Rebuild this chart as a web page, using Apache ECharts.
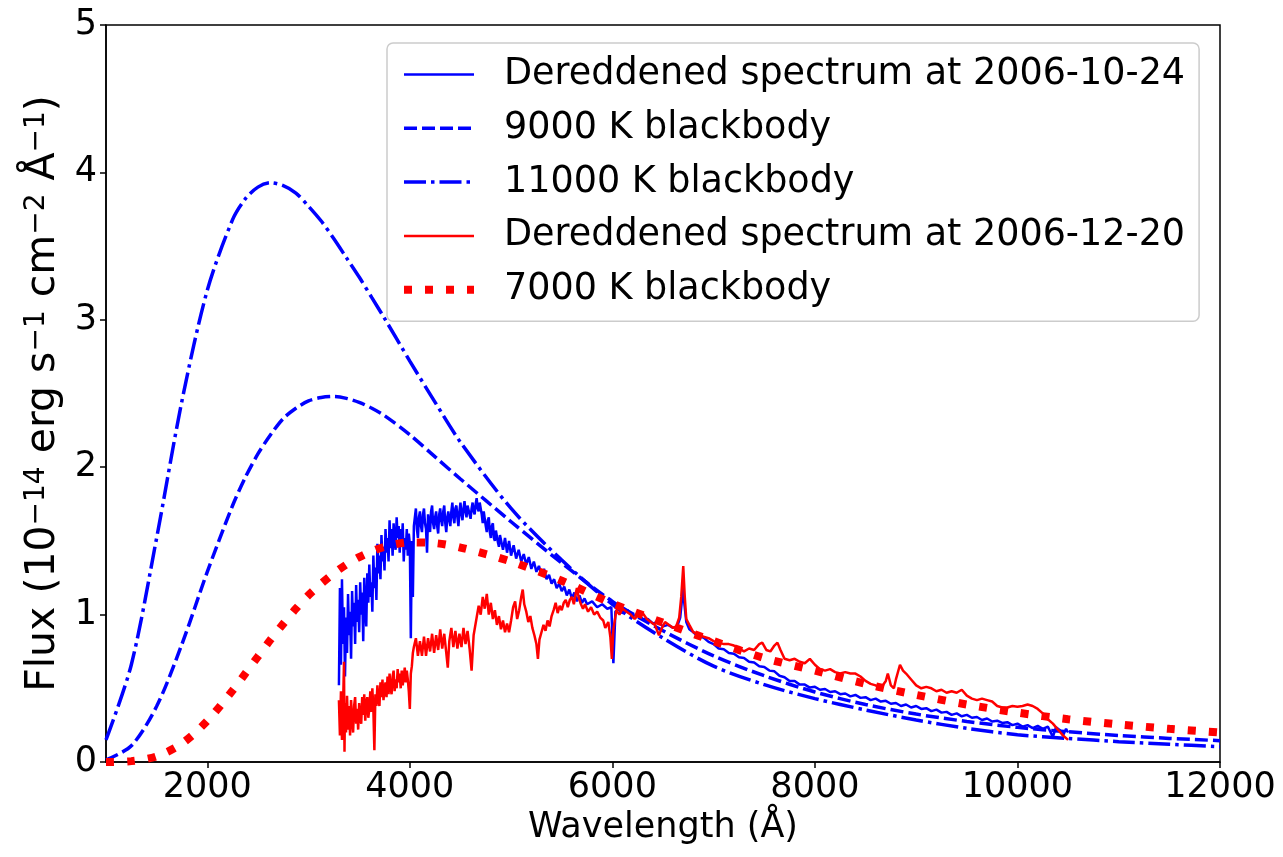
<!DOCTYPE html>
<html><head><meta charset="utf-8">
<script src="https://cdn.jsdelivr.net/npm/echarts@6/dist/echarts.min.js"></script>
<style>html,body{margin:0;padding:0;background:#fff}#c{width:1283px;height:857px}</style>
</head><body><div id="c"></div><script>
// ---- data ----
const xTicks = [2000, 4000, 6000, 8000, 10000, 12000];
const yTicks = [0, 1, 2, 3, 4, 5];
const seriesNames = ['Dereddened spectrum at 2006-10-24', '9000 K blackbody', '11000 K blackbody', 'Dereddened spectrum at 2006-12-20', '7000 K blackbody'];

const bbWave = [1000,1250,1500,1750,2000,2250,2375,2500,2625,2750,2875,3000,3125,3250,3375,3500,3625,3750,4000,4250,4500,5000,5500,6000,6500,7000,7500,8000,8500,9000,9500,10000,10500,11000,11500,12000];
const bb11000 = [0.15,0.66,1.52,2.45,3.20,3.68,3.82,3.90,3.93,3.91,3.86,3.77,3.67,3.55,3.42,3.29,3.15,3.01,2.72,2.44,2.17,1.72,1.37,1.07,0.84,0.65,0.525,0.43,0.353,0.285,0.228,0.185,0.16,0.138,0.12,0.104];
const bb9000 = [0.014,0.11,0.378,0.80,1.29,1.74,1.93,2.09,2.22,2.33,2.40,2.45,2.473,2.48,2.467,2.44,2.40,2.35,2.22,2.07,1.92,1.63,1.35,1.09,0.89,0.72,0.585,0.475,0.39,0.325,0.275,0.235,0.205,0.18,0.16,0.145];
const bb7000 = [0.0003,0.006,0.038,0.125,0.279,0.485,0.60,0.715,0.83,0.937,1.04,1.132,1.21,1.28,1.34,1.39,1.43,1.46,1.49,1.485,1.455,1.36,1.23,1.075,0.945,0.82,0.705,0.62,0.53,0.455,0.39,0.335,0.29,0.255,0.225,0.2];

// [wavelength (Å), flux]
const blueSpectrum = [[3300,0.52],[3310,1.18],[3320,0.66],[3330,1.24],[3340,0.80],[3350,1.05],[3360,0.58],[3370,0.98],[3380,0.74],[3390,1.14],[3400,0.86],[3410,1.02],[3420,0.70],[3430,1.16],[3440,0.92],[3450,1.08],[3460,0.80],[3470,1.20],[3480,0.95],[3490,1.10],[3500,0.88],[3510,1.22],[3520,1.00],[3530,1.15],[3540,0.82],[3550,1.25],[3560,1.05],[3570,0.92],[3580,1.28],[3590,1.08],[3600,1.34],[3610,1.12],[3620,1.22],[3630,1.02],[3640,1.40],[3650,1.18],[3660,1.32],[3670,1.10],[3680,1.48],[3690,1.28],[3700,1.40],[3710,1.24],[3720,1.54],[3730,1.36],[3740,1.46],[3750,1.30],[3760,1.58],[3770,1.42],[3780,1.52],[3790,1.36],[3800,1.64],[3810,1.45],[3820,1.58],[3830,1.40],[3840,1.62],[3850,1.50],[3860,1.44],[3870,1.66],[3880,1.52],[3890,1.60],[3900,1.42],[3910,1.58],[3920,1.48],[3930,1.62],[3940,1.36],[3950,1.52],[3960,1.44],[3970,1.58],[3980,1.40],[3990,1.55],[4000,1.48],[4010,0.84],[4020,1.50],[4030,1.12],[4040,1.60],[4060,1.72],[4070,1.58],[4080,1.52],[4090,1.66],[4100,1.70],[4110,1.60],[4120,1.56],[4130,1.68],[4140,1.72],[4150,1.62],[4160,1.58],[4170,1.42],[4180,1.68],[4190,1.62],[4200,1.56],[4210,1.70],[4220,1.74],[4230,1.62],[4240,1.58],[4250,1.66],[4260,1.70],[4270,1.60],[4280,1.55],[4290,1.68],[4300,1.72],[4310,1.64],[4320,1.60],[4330,1.70],[4340,1.74],[4350,1.62],[4360,1.56],[4370,1.66],[4380,1.70],[4390,1.64],[4400,1.60],[4410,1.70],[4420,1.76],[4430,1.66],[4440,1.62],[4450,1.72],[4460,1.74],[4470,1.66],[4480,1.60],[4490,1.70],[4500,1.76],[4510,1.68],[4520,1.64],[4530,1.72],[4540,1.77],[4550,1.70],[4560,1.66],[4570,1.74],[4580,1.75],[4590,1.68],[4600,1.65],[4610,1.72],[4620,1.76],[4630,1.70],[4640,1.68],[4650,1.75],[4660,1.79],[4670,1.72],[4680,1.70],[4690,1.76],[4700,1.77],[4710,1.68],[4720,1.62],[4730,1.70],[4740,1.70],[4750,1.60],[4760,1.56],[4770,1.64],[4780,1.66],[4790,1.56],[4800,1.52],[4810,1.60],[4820,1.62],[4830,1.52],[4840,1.50],[4850,1.57],[4860,1.58],[4870,1.49],[4880,1.46],[4890,1.54],[4900,1.55],[4920,1.44],[4940,1.52],[4960,1.42],[4980,1.50],[5000,1.40],[5025,1.47],[5050,1.38],[5075,1.44],[5100,1.36],[5125,1.41],[5150,1.34],[5175,1.39],[5200,1.31],[5225,1.36],[5250,1.29],[5275,1.33],[5300,1.27],[5325,1.31],[5350,1.24],[5375,1.27],[5400,1.21],[5425,1.24],[5450,1.18],[5475,1.21],[5500,1.16],[5525,1.19],[5550,1.13],[5575,1.17],[5600,1.11],[5625,1.15],[5650,1.09],[5675,1.13],[5700,1.08],[5725,1.11],[5750,1.07],[5800,1.09],[5850,1.05],[5900,1.07],[5950,1.04],[5990,1.05],[6010,0.67],[6030,1.02],[6060,1.04],[6100,1.01],[6150,1.03],[6200,0.99],[6250,1.00],[6300,0.97],[6350,0.97],[6400,0.94],[6450,0.95],[6500,0.92],[6550,0.93],[6600,0.91],[6640,0.92],[6670,0.98],[6690,1.12],[6700,1.20],[6710,1.08],[6730,0.95],[6760,0.90],[6800,0.88],[6850,0.85],[6900,0.845],[6950,0.815],[7000,0.80],[7050,0.77],[7100,0.765],[7150,0.74],[7200,0.735],[7250,0.71],[7300,0.705],[7350,0.68],[7400,0.675],[7450,0.65],[7500,0.645],[7550,0.62],[7600,0.615],[7650,0.585],[7700,0.575],[7750,0.55],[7800,0.55],[7850,0.525],[7900,0.525],[7950,0.505],[8000,0.51],[8050,0.49],[8100,0.495],[8150,0.475],[8200,0.48],[8250,0.46],[8300,0.465],[8350,0.445],[8400,0.455],[8450,0.435],[8500,0.44],[8550,0.42],[8600,0.43],[8650,0.41],[8700,0.415],[8750,0.395],[8800,0.40],[8850,0.38],[8900,0.39],[8950,0.37],[9000,0.38],[9050,0.36],[9100,0.365],[9150,0.345],[9200,0.355],[9250,0.335],[9300,0.34],[9350,0.32],[9400,0.33],[9450,0.31],[9500,0.32],[9550,0.30],[9600,0.305],[9650,0.285],[9700,0.295],[9750,0.275],[9800,0.28],[9850,0.265],[9900,0.27],[9950,0.25],[10000,0.26],[10050,0.24],[10100,0.25],[10150,0.23],[10200,0.245],[10250,0.225],[10300,0.24],[10350,0.17],[10380,0.235],[10420,0.215],[10450,0.18],[10480,0.225],[10500,0.20]];

const redSpectrum = [[3300,0.42],[3310,0.18],[3320,0.48],[3330,0.15],[3340,0.35],[3350,0.68],[3355,0.07],[3360,0.40],[3370,0.20],[3380,0.45],[3390,0.22],[3400,0.38],[3410,0.18],[3420,0.42],[3430,0.28],[3440,0.20],[3450,0.38],[3460,0.44],[3470,0.26],[3480,0.36],[3490,0.22],[3500,0.40],[3510,0.30],[3520,0.26],[3530,0.44],[3540,0.32],[3550,0.46],[3560,0.28],[3570,0.40],[3580,0.44],[3590,0.30],[3600,0.36],[3610,0.48],[3620,0.34],[3630,0.50],[3640,0.36],[3650,0.08],[3660,0.46],[3670,0.38],[3680,0.52],[3690,0.42],[3700,0.38],[3710,0.54],[3720,0.44],[3730,0.56],[3740,0.42],[3750,0.50],[3760,0.54],[3770,0.44],[3780,0.58],[3790,0.46],[3800,0.60],[3810,0.50],[3820,0.46],[3830,0.58],[3840,0.62],[3850,0.48],[3860,0.56],[3870,0.50],[3880,0.63],[3890,0.54],[3900,0.60],[3910,0.50],[3920,0.62],[3930,0.52],[3940,0.58],[3950,0.64],[3960,0.54],[3970,0.62],[3980,0.56],[3990,0.48],[4000,0.36],[4010,0.60],[4020,0.65],[4030,0.74],[4040,0.78],[4060,0.84],[4080,0.72],[4100,0.82],[4120,0.72],[4140,0.85],[4160,0.72],[4180,0.84],[4200,0.75],[4220,0.87],[4240,0.74],[4260,0.86],[4280,0.76],[4300,0.90],[4320,0.77],[4340,0.87],[4360,0.74],[4375,0.64],[4390,0.82],[4410,0.91],[4430,0.78],[4450,0.89],[4470,0.77],[4490,0.87],[4510,0.78],[4530,0.91],[4550,0.80],[4570,0.89],[4590,0.77],[4610,0.62],[4630,0.86],[4660,0.98],[4680,1.06],[4700,1.00],[4720,1.12],[4740,1.04],[4760,1.14],[4780,1.00],[4800,1.08],[4820,0.97],[4840,1.03],[4860,0.93],[4880,0.99],[4900,0.90],[4920,0.96],[4940,0.88],[4960,0.94],[4980,0.88],[5000,0.96],[5020,1.05],[5040,1.09],[5060,0.97],[5080,1.03],[5100,1.12],[5115,1.17],[5130,1.07],[5150,1.02],[5170,0.95],[5190,0.99],[5210,0.91],[5230,0.86],[5250,0.80],[5265,0.70],[5280,0.83],[5300,0.88],[5320,0.93],[5340,0.89],[5360,0.96],[5380,0.92],[5400,0.99],[5420,1.03],[5440,1.08],[5460,1.01],[5480,1.06],[5500,1.03],[5520,1.08],[5540,1.10],[5560,1.05],[5580,1.10],[5600,1.12],[5620,1.07],[5640,1.15],[5650,1.18],[5670,1.11],[5690,1.07],[5710,1.04],[5730,1.07],[5760,1.02],[5790,1.05],[5820,1.00],[5850,1.02],[5880,0.98],[5910,0.96],[5930,0.91],[5960,0.95],[5980,0.85],[5995,0.70],[6010,0.90],[6040,1.03],[6070,1.00],[6100,1.04],[6140,1.02],[6180,1.00],[6220,0.97],[6260,1.00],[6300,1.01],[6340,0.97],[6380,0.95],[6420,0.93],[6460,0.86],[6490,0.91],[6520,0.95],[6560,0.93],[6600,0.91],[6630,0.92],[6660,0.98],[6680,1.12],[6700,1.33],[6715,1.12],[6730,0.97],[6760,0.93],[6800,0.88],[6850,0.87],[6900,0.85],[6950,0.84],[7000,0.82],[7050,0.81],[7100,0.80],[7150,0.80],[7200,0.79],[7250,0.77],[7300,0.75],[7350,0.77],[7400,0.76],[7450,0.80],[7480,0.81],[7520,0.76],[7560,0.75],[7600,0.79],[7630,0.81],[7660,0.76],[7700,0.70],[7750,0.69],[7800,0.70],[7850,0.68],[7900,0.67],[7950,0.70],[8000,0.66],[8050,0.63],[8100,0.62],[8150,0.63],[8200,0.61],[8250,0.60],[8300,0.61],[8350,0.60],[8400,0.60],[8450,0.58],[8500,0.55],[8550,0.53],[8600,0.52],[8650,0.50],[8700,0.55],[8720,0.60],[8750,0.52],[8780,0.50],[8800,0.56],[8840,0.66],[8870,0.62],[8900,0.60],[8950,0.56],[9000,0.52],[9050,0.50],[9100,0.51],[9150,0.50],[9200,0.48],[9250,0.49],[9300,0.47],[9350,0.48],[9400,0.47],[9450,0.49],[9500,0.45],[9550,0.43],[9600,0.42],[9650,0.43],[9700,0.42],[9750,0.41],[9800,0.38],[9850,0.37],[9900,0.37],[9950,0.38],[10000,0.375],[10050,0.38],[10100,0.39],[10150,0.38],[10200,0.36],[10250,0.33],[10300,0.29],[10350,0.26],[10400,0.22],[10450,0.18],[10500,0.15]];

// ---- chart ----
function pairs(xs, ys) { return xs.map((x, i) => [x, ys[i]]); }
const FONT = 'DejaVu Sans';
const FS = 35;
const blue = '#0000ff', red = '#ff0000';
const styles = [
  {color: blue, width: 2.5, type: 'solid'},
  {color: blue, width: 3.5, type: [13, 5]},
  {color: blue, width: 3.5, type: [22, 5, 3.5, 5]},
  {color: red, width: 2.5, type: 'solid'},
  {color: red, width: 8, type: [8, 13], cap: 'butt'}
];
const chart = echarts.init(document.getElementById('c'), null, {renderer: 'canvas'});
chart.setOption({
  animation: false,
  backgroundColor: '#ffffff',
  grid: {left: 106, right: 63, top: 25, bottom: 95, containLabel: false, outerBoundsMode: 'none',
         show: true, borderColor: '#000', borderWidth: 1.5, backgroundColor: 'transparent'},
  xAxis: {
    type: 'value', min: 1000, max: 12000,
    name: 'Wavelength (Å)', nameLocation: 'middle', nameGap: 48,
    nameTextStyle: {fontFamily: FONT, fontSize: FS, color: '#000'},
    axisLine: {show: true, lineStyle: {color: '#000', width: 1.5}},
    axisTick: {show: true, inside: false, length: 6, lineStyle: {color: '#000', width: 1.5}, customValues: xTicks},
    axisLabel: {fontFamily: FONT, fontSize: FS, color: '#000', margin: 8, customValues: xTicks, formatter: v => String(v)},
    splitLine: {show: false}
  },
  yAxis: {
    type: 'value', min: 0, max: 5, interval: 1,
    name: '{a|Flux (10}{s|−14}{a| erg s}{s|−1}{a| cm}{s|−2}{a| Å}{s|−1}{a|)}',
    nameLocation: 'middle', nameRotate: 90, nameGap: 40,
    nameTextStyle: {
      fontFamily: FONT, fontSize: 41, color: '#000',
      rich: {
        a: {fontFamily: FONT, fontSize: 41, color: '#000', lineHeight: 41, verticalAlign: 'bottom', padding: [11, 0, 0, 0]},
        s: {fontFamily: FONT, fontSize: 28, color: '#000', lineHeight: 28, verticalAlign: 'top'}
      }
    },
    axisLine: {show: true, lineStyle: {color: '#000', width: 1.5}},
    axisTick: {show: true, inside: false, length: 6, lineStyle: {color: '#000', width: 1.5}, customValues: yTicks},
    axisLabel: {fontFamily: FONT, fontSize: FS, color: '#000', margin: 9, customValues: yTicks, formatter: v => String(v)},
    splitLine: {show: false}
  },
  legend: {
    orient: 'vertical', left: 387, top: 43, align: 'left',
    padding: [13, 14, 13, 13], itemGap: 16.8, itemWidth: 70, itemHeight: 14,
    backgroundColor: 'rgba(255,255,255,0.8)', borderColor: '#cccccc', borderWidth: 1.5, borderRadius: 6,
    itemStyle: {opacity: 0},
    data: seriesNames.map((n, i) => ({name: n, itemStyle: {opacity: 0},
      lineStyle: {color: styles[i].color, width: styles[i].width, type: styles[i].type, cap: 'butt'}})),
    formatter: n => '{sp|}{t|' + n + '}',
    textStyle: {fontFamily: FONT, fontSize: 36.5, color: '#000', lineHeight: 36,
      rich: {sp: {width: 25}, t: {fontFamily: FONT, fontSize: 36.5, color: '#000', lineHeight: 36}}}
  },
  series: [
    {name: seriesNames[0], type: 'line', data: blueSpectrum, symbol: 'none', showSymbol: false,
     lineStyle: styles[0], itemStyle: {color: blue}, z: 2},
    {name: seriesNames[1], type: 'line', data: pairs(bbWave, bb9000), symbol: 'none', showSymbol: false, smooth: 0.3,
     lineStyle: styles[1], itemStyle: {color: blue}, z: 3},
    {name: seriesNames[2], type: 'line', data: pairs(bbWave, bb11000), symbol: 'none', showSymbol: false, smooth: 0.3,
     lineStyle: styles[2], itemStyle: {color: blue}, z: 4},
    {name: seriesNames[3], type: 'line', data: redSpectrum, symbol: 'none', showSymbol: false,
     lineStyle: styles[3], itemStyle: {color: red}, z: 5},
    {name: seriesNames[4], type: 'line', data: pairs(bbWave, bb7000), symbol: 'none', showSymbol: false, smooth: 0.3,
     lineStyle: styles[4], itemStyle: {color: red}, z: 6}
  ]
});
</script></body></html>
